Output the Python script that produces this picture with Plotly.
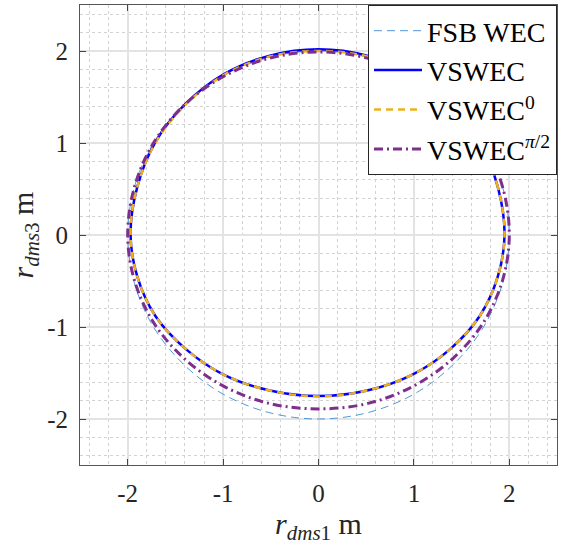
import plotly.graph_objects as go

# Data (metres)
fsb_x = [2.00, 1.93, 1.73, 1.41, 1.00, 0.52, 0.00, -0.52, -1.00, -1.41, -1.73, -1.93, -2.00,
         -1.93, -1.73, -1.41, -1.00, -0.52, 0.00, 0.52, 1.00, 1.41, 1.73, 1.93, 2.00]
fsb_y = [0.00, 0.52, 1.00, 1.41, 1.73, 1.93, 2.00, 1.93, 1.73, 1.41, 1.00, 0.52, 0.00,
         -0.52, -1.00, -1.41, -1.73, -1.93, -2.00, -1.93, -1.73, -1.41, -1.00, -0.52, 0.00]

vs_x = [1.95, 1.88, 1.69, 1.38, 0.98, 0.51, 0.00, -0.51, -0.99, -1.39, -1.71, -1.90, -1.97,
        -1.90, -1.71, -1.39, -0.99, -0.51, 0.00, 0.51, 0.98, 1.38, 1.69, 1.88, 1.95]
vs_y = [0.00, 0.52, 1.01, 1.43, 1.75, 1.95, 2.02, 1.95, 1.75, 1.43, 1.01, 0.52, 0.00,
        -0.45, -0.88, -1.24, -1.52, -1.69, -1.75, -1.69, -1.52, -1.24, -0.88, -0.45, 0.00]

vs0_x = [1.95, 1.88, 1.69, 1.38, 0.98, 0.51, 0.00, -0.51, -0.99, -1.39, -1.71, -1.90, -1.97,
         -1.90, -1.71, -1.39, -0.99, -0.51, 0.00, 0.51, 0.98, 1.38, 1.69, 1.88, 1.95]
vs0_y = [0.00, 0.52, 1.00, 1.42, 1.74, 1.94, 2.00, 1.94, 1.74, 1.42, 1.00, 0.52, 0.00,
         -0.45, -0.88, -1.24, -1.52, -1.69, -1.755, -1.69, -1.52, -1.24, -0.88, -0.45, 0.00]

vp_x = [2.00, 1.93, 1.73, 1.41, 1.00, 0.52, 0.00, -0.52, -1.00, -1.41, -1.73, -1.93, -2.00,
        -1.93, -1.73, -1.41, -1.00, -0.52, 0.00, 0.52, 1.00, 1.41, 1.73, 1.93, 2.00]
vp_y = [0.00, 0.52, 1.00, 1.41, 1.72, 1.92, 1.99, 1.92, 1.72, 1.41, 1.00, 0.52, 0.00,
        -0.49, -0.95, -1.34, -1.64, -1.83, -1.89, -1.83, -1.64, -1.34, -0.95, -0.49, 0.00]

tick_vals = [-2, -1, 0, 1, 2]
tick_text = ["-2", "-1", "0", "1", "2"]

FONT = "Liberation Serif"

fig = go.Figure()
fig.add_trace(go.Scatter(x=fsb_x, y=fsb_y, mode="lines", name="FSB WEC",
                         line=dict(color="#3d8fd6", width=0.9, dash="8px,5px", shape="spline")))
fig.add_trace(go.Scatter(x=vs_x, y=vs_y, mode="lines", name="VSWEC",
                         line=dict(color="#0000ff", width=2.5, shape="spline")))
fig.add_trace(go.Scatter(x=vs0_x, y=vs0_y, mode="lines", name="VSWEC<sup>0</sup>",
                         line=dict(color="#EDB120", width=2.5, dash="7px,5px", shape="spline")))
fig.add_trace(go.Scatter(x=vp_x, y=vp_y, mode="lines", name="VSWEC<sup><i>π</i>/2</sup>",
                         line=dict(color="#7E2F8E", width=3, dash="9px,4px,2px,4px", shape="spline")))

axis_common = dict(
    range=[-2.5, 2.5], tickvals=tick_vals, ticktext=tick_text,
    showline=True, linecolor="#555555", linewidth=1, mirror="ticks",
    ticks="inside", ticklen=6, tickcolor="#444444",
    showgrid=True, gridcolor="#e3e3e3", gridwidth=1.5,
    zeroline=False, automargin=False,
    minor=dict(dtick=0.2, showgrid=True, gridcolor="#d2d2d2", griddash="dot", gridwidth=1, ticks=""),
    tickfont=dict(family=FONT, size=25, color="#262626"),
)

fig.update_layout(
    width=570, height=546,
    margin=dict(l=80, r=13, t=5, b=81),
    paper_bgcolor="white", plot_bgcolor="white",
    font=dict(family=FONT, color="#262626"),
    xaxis=dict(**axis_common, ticklabelstandoff=6,
               title=dict(text="<i>r</i><sub><i>dms</i>1</sub> m", font=dict(family=FONT, size=30), standoff=4)),
    yaxis=dict(**axis_common, ticklabelstandoff=6,
               title=dict(text="<i>r</i><sub><i>dms</i>3</sub> m", font=dict(family=FONT, size=30), standoff=4)),
    legend=dict(x=1, y=1, xanchor="right", yanchor="top",
                bgcolor="white", bordercolor="#262626", borderwidth=1,
                font=dict(family=FONT, size=28, color="black"),
                itemwidth=48, tracegroupgap=0),
    showlegend=True,
)

fig.write_html("out.html", config={"displayModeBar": False},
               post_script="document.body.style.margin='0';document.body.style.padding='0';")
